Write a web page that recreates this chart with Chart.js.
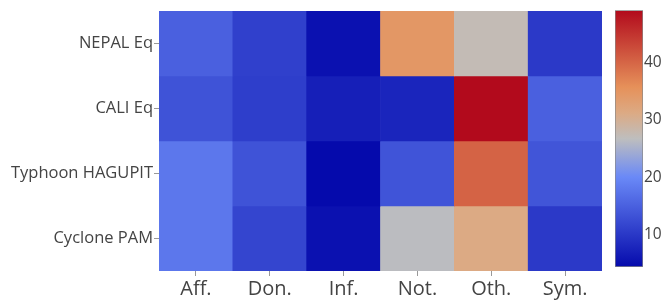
<!DOCTYPE html>
<html>
<head>
<meta charset="utf-8">
<script src="https://cdn.jsdelivr.net/npm/chart.js@4.4.1/dist/chart.umd.min.js"></script>
<style>
  html, body { margin: 0; padding: 0; background: #fff; }
  #wrap { position: relative; width: 665px; height: 300px; overflow: hidden; }
  #c1 { position: absolute; left: 0; top: 0; }
  #c2 { position: absolute; left: 608px; top: 0; }
</style>
</head>
<body>
<div id="wrap">
  <canvas id="c1" width="603" height="300"></canvas>
  <canvas id="c2" width="57" height="300"></canvas>
</div>
<script>
/* ---------- Datos ---------- */
const COLUMNS = ['Aff.', 'Don.', 'Inf.', 'Not.', 'Oth.', 'Sym.'];
const ROWS    = ['NEPAL Eq', 'CALI Eq', 'Typhoon HAGUPIT', 'Cyclone PAM'];   // de arriba a abajo

const NEPAL_EQ        = [15.0, 11.0, 5.3, 34.5, 27.4, 10.2];
const CALI_EQ         = [13.4, 10.8, 7.0, 7.7, 49.0, 15.0];
const TYPHOON_HAGUPIT = [17.8, 13.4, 4.4, 13.5, 40.2, 13.6];
const CYCLONE_PAM     = [17.8, 11.7, 5.3, 26.5, 31.2, 10.2];
const ROW_VALUES = [NEPAL_EQ, CALI_EQ, TYPHOON_HAGUPIT, CYCLONE_PAM];

const COLORBAR_TICKS = [10, 20, 30, 40];
const Z_MIN = 4.4;
const Z_MAX = 49.0;

/* ---------- Escala de color ---------- */
const SCALE = [
  [0.00, [5, 10, 172]],
  [0.35, [106, 137, 247]],
  [0.50, [190, 190, 190]],
  [0.60, [220, 170, 132]],
  [0.70, [230, 145, 90]],
  [1.00, [178, 10, 28]]
];

function colorAt(t) {
  t = Math.max(0, Math.min(1, t));
  for (let i = 1; i < SCALE.length; i++) {
    if (t <= SCALE[i][0]) {
      const [t0, c0] = SCALE[i - 1], [t1, c1] = SCALE[i];
      const f = (t - t0) / (t1 - t0);
      const c = c0.map((v, k) => Math.round(v + (c1[k] - v) * f));
      return `rgb(${c[0]},${c[1]},${c[2]})`;
    }
  }
  const c = SCALE[SCALE.length - 1][1];
  return `rgb(${c[0]},${c[1]},${c[2]})`;
}
const colorFor = v => colorAt((v - Z_MIN) / (Z_MAX - Z_MIN));

const FONT = "'Open Sans', sans-serif";
const TEXT = '#444';

/* ---------- Mapa de calor (barras flotantes) ---------- */
const nRows = ROWS.length;
const datasets = ROW_VALUES.map((vals, i) => {
  const y = nRows - 1 - i;
  return {
    label: ROWS[i],
    data: vals.map(() => [y - 0.5, y + 0.5]),
    backgroundColor: vals.map(colorFor),
    borderWidth: 0,
    grouped: false,
    barPercentage: 1,
    categoryPercentage: 1
  };
});

new Chart(document.getElementById('c1'), {
  type: 'bar',
  data: { labels: COLUMNS, datasets },
  options: {
    responsive: false,
    animation: false,
    layout: { padding: { top: 9, right: 1, left: 0, bottom: 0 } },
    plugins: { legend: { display: false }, tooltip: { enabled: false } },
    scales: {
      x: {
        grid: { offset: false, drawOnChartArea: false, drawTicks: true, tickLength: 5, color: '#999' },
        border: { display: false },
        ticks: { color: TEXT, font: { family: FONT, size: 20 }, padding: 1 },
        afterFit: s => { s.height = 29; }
      },
      y: {
        type: 'linear',
        min: -0.5,
        max: nRows - 0.5,
        grid: { drawOnChartArea: false, drawTicks: true, tickLength: 5, color: '#999' },
        border: { display: false },
        afterBuildTicks: s => { s.ticks = ROWS.map((_, i) => ({ value: i })); },
        ticks: {
          color: TEXT,
          font: { family: FONT, size: 16.5 },
          padding: 1,
          callback: v => ROWS[nRows - 1 - v]
        },
        afterFit: s => { s.width = 159; }
      }
    }
  }
});

/* ---------- Barra de color ---------- */
new Chart(document.getElementById('c2'), {
  type: 'bar',
  data: {
    labels: [''],
    datasets: [{
      data: [[Z_MIN, Z_MAX]],
      backgroundColor: ctx => {
        const { chartArea, ctx: g } = ctx.chart;
        if (!chartArea) return null;
        const grad = g.createLinearGradient(0, chartArea.bottom, 0, chartArea.top);
        SCALE.forEach(([t, c]) => grad.addColorStop(t, `rgb(${c[0]},${c[1]},${c[2]})`));
        return grad;
      },
      borderColor: '#888',
      borderWidth: 1,
      borderSkipped: false,
      barPercentage: 1,
      categoryPercentage: 1
    }]
  },
  options: {
    responsive: false,
    animation: false,
    layout: { padding: { top: 7, left: 7, bottom: 33, right: 0 } },
    plugins: { legend: { display: false }, tooltip: { enabled: false } },
    scales: {
      x: { display: false },
      y: {
        position: 'right',
        min: Z_MIN,
        max: Z_MAX,
        grid: { display: false, drawTicks: false },
        border: { display: false },
        afterBuildTicks: s => { s.ticks = COLORBAR_TICKS.map(v => ({ value: v })); },
        ticks: { color: TEXT, font: { family: FONT, size: 15.5 }, padding: 1 },
        afterFit: s => { s.width = 22; }
      }
    }
  }
});
</script>
</body>
</html>
